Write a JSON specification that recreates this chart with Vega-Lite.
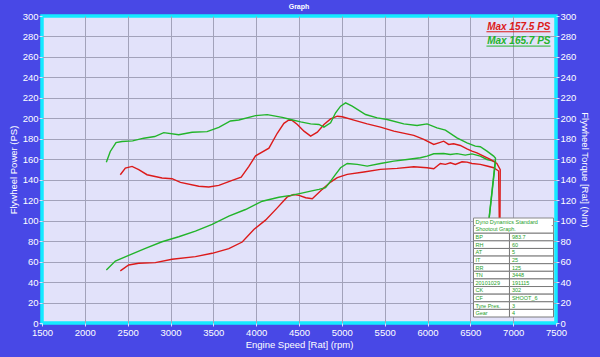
{
  "$schema": "https://vega.github.io/schema/vega-lite/v6.json",
  "width": 514,
  "height": 307,
  "autosize": "none",
  "padding": {"left": 42, "top": 16, "right": 44, "bottom": 34},
  "background": "#4848e6",
  "title": {"text": "Graph", "fontSize": 7, "color": "#ffffff", "fontWeight": "bold", "font": "Liberation Sans", "offset": 1, "anchor": "middle"},
  "datasets": {
    "curves": [
      {"measure":"Torque","run":"Run 1","rpm":2414,"value":144.9},{"measure":"Torque","run":"Run 1","rpm":2473,"value":151.4},{"measure":"Torque","run":"Run 1","rpm":2551,"value":153},{"measure":"Torque","run":"Run 1","rpm":2629,"value":149.8},{"measure":"Torque","run":"Run 1","rpm":2726,"value":144.9},{"measure":"Torque","run":"Run 1","rpm":2901,"value":141.7},{"measure":"Torque","run":"Run 1","rpm":3018,"value":141},{"measure":"Torque","run":"Run 1","rpm":3116,"value":137.4},{"measure":"Torque","run":"Run 1","rpm":3330,"value":133.6},{"measure":"Torque","run":"Run 1","rpm":3447,"value":132.9},{"measure":"Torque","run":"Run 1","rpm":3564,"value":134.5},{"measure":"Torque","run":"Run 1","rpm":3720,"value":139.4},{"measure":"Torque","run":"Run 1","rpm":3825,"value":142.6},{"measure":"Torque","run":"Run 1","rpm":3915,"value":153},{"measure":"Torque","run":"Run 1","rpm":3993,"value":163.4},{"measure":"Torque","run":"Run 1","rpm":4149,"value":170.8},{"measure":"Torque","run":"Run 1","rpm":4246,"value":185.4},{"measure":"Torque","run":"Run 1","rpm":4324,"value":195.1},{"measure":"Torque","run":"Run 1","rpm":4382,"value":198.4},{"measure":"Torque","run":"Run 1","rpm":4420,"value":198},{"measure":"Torque","run":"Run 1","rpm":4481,"value":194},{"measure":"Torque","run":"Run 1","rpm":4558,"value":187.5},{"measure":"Torque","run":"Run 1","rpm":4636,"value":182.6},{"measure":"Torque","run":"Run 1","rpm":4714,"value":186.5},{"measure":"Torque","run":"Run 1","rpm":4791,"value":194},{"measure":"Torque","run":"Run 1","rpm":4869,"value":199.5},{"measure":"Torque","run":"Run 1","rpm":4947,"value":202.1},{"measure":"Torque","run":"Run 1","rpm":5005,"value":201.5},{"measure":"Torque","run":"Run 1","rpm":5141,"value":198.2},{"measure":"Torque","run":"Run 1","rpm":5296,"value":194.6},{"measure":"Torque","run":"Run 1","rpm":5451,"value":191.4},{"measure":"Torque","run":"Run 1","rpm":5607,"value":187.5},{"measure":"Torque","run":"Run 1","rpm":5840,"value":183.3},{"measure":"Torque","run":"Run 1","rpm":5956,"value":179.4},{"measure":"Torque","run":"Run 1","rpm":6073,"value":174.5},{"measure":"Torque","run":"Run 1","rpm":6131,"value":176.1},{"measure":"Torque","run":"Run 1","rpm":6189,"value":177.7},{"measure":"Torque","run":"Run 1","rpm":6247,"value":174.5},{"measure":"Torque","run":"Run 1","rpm":6305,"value":175.1},{"measure":"Torque","run":"Run 1","rpm":6383,"value":173.5},{"measure":"Torque","run":"Run 1","rpm":6461,"value":170.2},{"measure":"Torque","run":"Run 1","rpm":6519,"value":168},{"measure":"Torque","run":"Run 1","rpm":6577,"value":166.3},{"measure":"Torque","run":"Run 1","rpm":6655,"value":163.1},{"measure":"Torque","run":"Run 1","rpm":6733,"value":159.8},{"measure":"Torque","run":"Run 1","rpm":6810,"value":155.9},{"measure":"Torque","run":"Run 1","rpm":6849,"value":149.8},{"measure":"Torque","run":"Run 1","rpm":6845,"value":90},
      {"measure":"Power","run":"Run 1","rpm":2414,"value":50.9},{"measure":"Power","run":"Run 1","rpm":2512,"value":56.7},{"measure":"Power","run":"Run 1","rpm":2629,"value":58.4},{"measure":"Power","run":"Run 1","rpm":2823,"value":59},{"measure":"Power","run":"Run 1","rpm":3018,"value":62.3},{"measure":"Power","run":"Run 1","rpm":3291,"value":64.9},{"measure":"Power","run":"Run 1","rpm":3486,"value":68.1},{"measure":"Power","run":"Run 1","rpm":3681,"value":72.6},{"measure":"Power","run":"Run 1","rpm":3837,"value":79.1},{"measure":"Power","run":"Run 1","rpm":3973,"value":91.4},{"measure":"Power","run":"Run 1","rpm":4109,"value":100.5},{"measure":"Power","run":"Run 1","rpm":4246,"value":112.5},{"measure":"Power","run":"Run 1","rpm":4363,"value":123.2},{"measure":"Power","run":"Run 1","rpm":4441,"value":125.5},{"measure":"Power","run":"Run 1","rpm":4500,"value":124.7},{"measure":"Power","run":"Run 1","rpm":4578,"value":122.4},{"measure":"Power","run":"Run 1","rpm":4655,"value":121.5},{"measure":"Power","run":"Run 1","rpm":4772,"value":130.6},{"measure":"Power","run":"Run 1","rpm":4869,"value":137.7},{"measure":"Power","run":"Run 1","rpm":4947,"value":142},{"measure":"Power","run":"Run 1","rpm":5063,"value":145.2},{"measure":"Power","run":"Run 1","rpm":5257,"value":147.5},{"measure":"Power","run":"Run 1","rpm":5451,"value":150.1},{"measure":"Power","run":"Run 1","rpm":5645,"value":151.1},{"measure":"Power","run":"Run 1","rpm":5840,"value":152.7},{"measure":"Power","run":"Run 1","rpm":5995,"value":151.7},{"measure":"Power","run":"Run 1","rpm":6073,"value":150.7},{"measure":"Power","run":"Run 1","rpm":6150,"value":155.9},{"measure":"Power","run":"Run 1","rpm":6209,"value":155},{"measure":"Power","run":"Run 1","rpm":6267,"value":156.6},{"measure":"Power","run":"Run 1","rpm":6325,"value":155},{"measure":"Power","run":"Run 1","rpm":6403,"value":157.5},{"measure":"Power","run":"Run 1","rpm":6461,"value":157.2},{"measure":"Power","run":"Run 1","rpm":6519,"value":155.9},{"measure":"Power","run":"Run 1","rpm":6616,"value":155},{"measure":"Power","run":"Run 1","rpm":6694,"value":153.4},{"measure":"Power","run":"Run 1","rpm":6772,"value":151.7},{"measure":"Power","run":"Run 1","rpm":6830,"value":148.5},{"measure":"Power","run":"Run 1","rpm":6840,"value":90},
      {"measure":"Torque","run":"Run 2","rpm":2251,"value":157.2},{"measure":"Torque","run":"Run 2","rpm":2297,"value":167.6},{"measure":"Torque","run":"Run 2","rpm":2364,"value":176.3},{"measure":"Torque","run":"Run 2","rpm":2434,"value":177.3},{"measure":"Torque","run":"Run 2","rpm":2558,"value":178},{"measure":"Torque","run":"Run 2","rpm":2687,"value":180.6},{"measure":"Torque","run":"Run 2","rpm":2816,"value":182.2},{"measure":"Torque","run":"Run 2","rpm":2921,"value":186},{"measure":"Torque","run":"Run 2","rpm":3096,"value":184},{"measure":"Torque","run":"Run 2","rpm":3252,"value":186.4},{"measure":"Torque","run":"Run 2","rpm":3427,"value":187},{"measure":"Torque","run":"Run 2","rpm":3564,"value":191.2},{"measure":"Torque","run":"Run 2","rpm":3700,"value":197.4},{"measure":"Torque","run":"Run 2","rpm":3798,"value":198.4},{"measure":"Torque","run":"Run 2","rpm":3993,"value":202.6},{"measure":"Torque","run":"Run 2","rpm":4129,"value":203.6},{"measure":"Torque","run":"Run 2","rpm":4304,"value":201},{"measure":"Torque","run":"Run 2","rpm":4403,"value":198.9},{"measure":"Torque","run":"Run 2","rpm":4519,"value":196.6},{"measure":"Torque","run":"Run 2","rpm":4636,"value":194.6},{"measure":"Torque","run":"Run 2","rpm":4733,"value":194},{"measure":"Torque","run":"Run 2","rpm":4791,"value":191.4},{"measure":"Torque","run":"Run 2","rpm":4869,"value":195.6},{"measure":"Torque","run":"Run 2","rpm":4927,"value":205.4},{"measure":"Torque","run":"Run 2","rpm":4985,"value":211.9},{"measure":"Torque","run":"Run 2","rpm":5044,"value":215.1},{"measure":"Torque","run":"Run 2","rpm":5121,"value":211.9},{"measure":"Torque","run":"Run 2","rpm":5277,"value":203.7},{"measure":"Torque","run":"Run 2","rpm":5413,"value":200.5},{"measure":"Torque","run":"Run 2","rpm":5529,"value":198.9},{"measure":"Torque","run":"Run 2","rpm":5723,"value":194.6},{"measure":"Torque","run":"Run 2","rpm":5878,"value":193},{"measure":"Torque","run":"Run 2","rpm":5995,"value":194.6},{"measure":"Torque","run":"Run 2","rpm":6111,"value":190.7},{"measure":"Torque","run":"Run 2","rpm":6209,"value":188.5},{"measure":"Torque","run":"Run 2","rpm":6344,"value":181},{"measure":"Torque","run":"Run 2","rpm":6461,"value":176.1},{"measure":"Torque","run":"Run 2","rpm":6558,"value":172.8},{"measure":"Torque","run":"Run 2","rpm":6616,"value":172.2},{"measure":"Torque","run":"Run 2","rpm":6694,"value":168},{"measure":"Torque","run":"Run 2","rpm":6772,"value":163.1},{"measure":"Torque","run":"Run 2","rpm":6794,"value":161},{"measure":"Torque","run":"Run 2","rpm":6703,"value":90},
      {"measure":"Power","run":"Run 2","rpm":2251,"value":51.9},{"measure":"Power","run":"Run 2","rpm":2356,"value":60.6},{"measure":"Power","run":"Run 2","rpm":2512,"value":66.1},{"measure":"Power","run":"Run 2","rpm":2707,"value":73},{"measure":"Power","run":"Run 2","rpm":2901,"value":79.4},{"measure":"Power","run":"Run 2","rpm":3096,"value":84.3},{"measure":"Power","run":"Run 2","rpm":3291,"value":89.8},{"measure":"Power","run":"Run 2","rpm":3486,"value":96.3},{"measure":"Power","run":"Run 2","rpm":3681,"value":104.4},{"measure":"Power","run":"Run 2","rpm":3876,"value":110.9},{"measure":"Power","run":"Run 2","rpm":4071,"value":119},{"measure":"Power","run":"Run 2","rpm":4265,"value":122.9},{"measure":"Power","run":"Run 2","rpm":4403,"value":124.7},{"measure":"Power","run":"Run 2","rpm":4519,"value":126.7},{"measure":"Power","run":"Run 2","rpm":4636,"value":128.9},{"measure":"Power","run":"Run 2","rpm":4733,"value":130.6},{"measure":"Power","run":"Run 2","rpm":4810,"value":132.2},{"measure":"Power","run":"Run 2","rpm":4869,"value":138.7},{"measure":"Power","run":"Run 2","rpm":4927,"value":145.2},{"measure":"Power","run":"Run 2","rpm":4985,"value":151.7},{"measure":"Power","run":"Run 2","rpm":5063,"value":155.9},{"measure":"Power","run":"Run 2","rpm":5180,"value":155},{"measure":"Power","run":"Run 2","rpm":5296,"value":153.3},{"measure":"Power","run":"Run 2","rpm":5451,"value":155.9},{"measure":"Power","run":"Run 2","rpm":5607,"value":158.2},{"measure":"Power","run":"Run 2","rpm":5762,"value":159.8},{"measure":"Power","run":"Run 2","rpm":5917,"value":161.5},{"measure":"Power","run":"Run 2","rpm":5995,"value":163.1},{"measure":"Power","run":"Run 2","rpm":6073,"value":165.4},{"measure":"Power","run":"Run 2","rpm":6189,"value":165.7},{"measure":"Power","run":"Run 2","rpm":6267,"value":164.7},{"measure":"Power","run":"Run 2","rpm":6344,"value":165.5},{"measure":"Power","run":"Run 2","rpm":6441,"value":164.1},{"measure":"Power","run":"Run 2","rpm":6519,"value":165.3},{"measure":"Power","run":"Run 2","rpm":6616,"value":163.1},{"measure":"Power","run":"Run 2","rpm":6694,"value":159.8},{"measure":"Power","run":"Run 2","rpm":6772,"value":158.2},{"measure":"Power","run":"Run 2","rpm":6794,"value":158},{"measure":"Power","run":"Run 2","rpm":6703,"value":90}
    ],
    "info": [
      {"key": "Dyno Dynamics Standard", "val": "", "part": "head"},
      {"key": "Shootout Graph.", "val": "", "part": "head"},
      {"key": "BP", "val": "983.7", "part": "row"},
      {"key": "RH", "val": "60", "part": "row"},
      {"key": "AT", "val": "5", "part": "row"},
      {"key": "IT", "val": "25", "part": "row"},
      {"key": "RR", "val": "125", "part": "row"},
      {"key": "TN", "val": "3448", "part": "row"},
      {"key": "20101029", "val": "191115", "part": "row"},
      {"key": "CK", "val": "302", "part": "row"},
      {"key": "CF", "val": "SHOOT_6", "part": "row"},
      {"key": "Tyre Pres.", "val": "3", "part": "row"},
      {"key": "Gear", "val": "4", "part": "row"}
    ]
  },
  "layer": [
    {
      "layer": [
        {
          "data": {"name": "curves"},
          "transform": [{"filter": "datum.measure === 'Power'"}],
          "mark": {"type": "line", "strokeWidth": 1.4, "clip": true},
          "encoding": {
            "x": {"field": "rpm", "type": "quantitative", "scale": {"domain": [1500, 7500], "nice": false},
                  "axis": {"title": "Engine Speed [Rat] (rpm)", "format": "d", "values": [1500,2000,2500,3000,3500,4000,4500,5000,5500,6000,6500,7000,7500], "labelFlush": false, "labelOverlap": false, "grid": true,
                           "gridOpacity": {"condition": {"test": "datum.value == 1500 || datum.value == 7500", "value": 0}, "value": 1}}},
            "y": {"field": "value", "type": "quantitative", "scale": {"domain": [0, 300], "nice": false},
                  "axis": {"orient": "left", "title": "Flywheel Power (PS)", "format": "d", "values": [0,20,40,60,80,100,120,140,160,180,200,220,240,260,280,300], "labelOverlap": false, "grid": true,
                           "gridOpacity": {"condition": {"test": "datum.value == 0 || datum.value == 300", "value": 0}, "value": 1}}},
            "color": {"field": "run", "type": "nominal", "scale": {"domain": ["Run 1", "Run 2"], "range": ["#dc1a1a", "#22b42a"]}, "legend": null},
            "order": {"value": null}
          }
        },
        {
          "data": {"values": [{}]},
          "mark": {"type": "text", "text": "Max 157.5 PS", "align": "right", "baseline": "alphabetic", "font": "Liberation Sans", "fontSize": 10, "fontWeight": "bold", "fontStyle": "italic", "color": "#dc1a1a"},
          "encoding": {
            "x": {"datum": 7436, "type": "quantitative", "scale": {"domain": [1500, 7500], "nice": false},
                  "axis": {"title": "Engine Speed [Rat] (rpm)", "format": "d", "values": [1500,2000,2500,3000,3500,4000,4500,5000,5500,6000,6500,7000,7500], "labelFlush": false, "labelOverlap": false, "grid": true,
                           "gridOpacity": {"condition": {"test": "datum.value == 1500 || datum.value == 7500", "value": 0}, "value": 1}}},
            "y": {"datum": 286.5, "type": "quantitative", "scale": {"domain": [0, 300], "nice": false},
                  "axis": {"orient": "left", "title": "Flywheel Power (PS)", "format": "d", "values": [0,20,40,60,80,100,120,140,160,180,200,220,240,260,280,300], "labelOverlap": false, "grid": true,
                           "gridOpacity": {"condition": {"test": "datum.value == 0 || datum.value == 300", "value": 0}, "value": 1}}}
          }
        },
        {
          "data": {"values": [{}]},
          "mark": {"type": "text", "text": "Max 165.7 PS", "align": "right", "baseline": "alphabetic", "font": "Liberation Sans", "fontSize": 10, "fontWeight": "bold", "fontStyle": "italic", "color": "#22b42a"},
          "encoding": {
            "x": {"datum": 7436, "type": "quantitative", "scale": {"domain": [1500, 7500], "nice": false},
                  "axis": {"title": "Engine Speed [Rat] (rpm)", "format": "d", "values": [1500,2000,2500,3000,3500,4000,4500,5000,5500,6000,6500,7000,7500], "labelFlush": false, "labelOverlap": false, "grid": true,
                           "gridOpacity": {"condition": {"test": "datum.value == 1500 || datum.value == 7500", "value": 0}, "value": 1}}},
            "y": {"datum": 272.6, "type": "quantitative", "scale": {"domain": [0, 300], "nice": false},
                  "axis": {"orient": "left", "title": "Flywheel Power (PS)", "format": "d", "values": [0,20,40,60,80,100,120,140,160,180,200,220,240,260,280,300], "labelOverlap": false, "grid": true,
                           "gridOpacity": {"condition": {"test": "datum.value == 0 || datum.value == 300", "value": 0}, "value": 1}}}
          }
        },
        {
          "data": {"values": [{}]},
          "mark": {"type": "rule", "color": "#dc1a1a", "strokeWidth": 1},
          "encoding": {
            "x": {"datum": 6688, "type": "quantitative", "scale": {"domain": [1500, 7500], "nice": false},
                  "axis": {"title": "Engine Speed [Rat] (rpm)", "format": "d", "values": [1500,2000,2500,3000,3500,4000,4500,5000,5500,6000,6500,7000,7500], "labelFlush": false, "labelOverlap": false, "grid": true,
                           "gridOpacity": {"condition": {"test": "datum.value == 1500 || datum.value == 7500", "value": 0}, "value": 1}}},
            "x2": {"datum": 7436},
            "y": {"datum": 284.6, "type": "quantitative", "scale": {"domain": [0, 300], "nice": false},
                  "axis": {"orient": "left", "title": "Flywheel Power (PS)", "format": "d", "values": [0,20,40,60,80,100,120,140,160,180,200,220,240,260,280,300], "labelOverlap": false, "grid": true,
                           "gridOpacity": {"condition": {"test": "datum.value == 0 || datum.value == 300", "value": 0}, "value": 1}}}
          }
        },
        {
          "data": {"values": [{}]},
          "mark": {"type": "rule", "color": "#22b42a", "strokeWidth": 1},
          "encoding": {
            "x": {"datum": 6688, "type": "quantitative", "scale": {"domain": [1500, 7500], "nice": false},
                  "axis": {"title": "Engine Speed [Rat] (rpm)", "format": "d", "values": [1500,2000,2500,3000,3500,4000,4500,5000,5500,6000,6500,7000,7500], "labelFlush": false, "labelOverlap": false, "grid": true,
                           "gridOpacity": {"condition": {"test": "datum.value == 1500 || datum.value == 7500", "value": 0}, "value": 1}}},
            "x2": {"datum": 7436},
            "y": {"datum": 270.6, "type": "quantitative", "scale": {"domain": [0, 300], "nice": false},
                  "axis": {"orient": "left", "title": "Flywheel Power (PS)", "format": "d", "values": [0,20,40,60,80,100,120,140,160,180,200,220,240,260,280,300], "labelOverlap": false, "grid": true,
                           "gridOpacity": {"condition": {"test": "datum.value == 0 || datum.value == 300", "value": 0}, "value": 1}}}
          }
        }
      ]
    },
    {
      "data": {"name": "curves"},
      "transform": [{"filter": "datum.measure === 'Torque'"}],
      "mark": {"type": "line", "strokeWidth": 1.4, "clip": true},
      "encoding": {
        "x": {"field": "rpm", "type": "quantitative", "scale": {"domain": [1500, 7500], "nice": false},
              "axis": {"title": "Engine Speed [Rat] (rpm)", "format": "d", "values": [1500,2000,2500,3000,3500,4000,4500,5000,5500,6000,6500,7000,7500], "labelFlush": false, "labelOverlap": false, "grid": true,
                       "gridOpacity": {"condition": {"test": "datum.value == 1500 || datum.value == 7500", "value": 0}, "value": 1}}},
        "y": {"field": "value", "type": "quantitative", "scale": {"domain": [0, 300], "nice": false},
              "axis": {"orient": "right", "title": "Flywheel Torque [Rat] (Nm)", "format": "d", "values": [0,20,40,60,80,100,120,140,160,180,200,220,240,260,280,300], "labelOverlap": false, "grid": false}},
        "color": {"field": "run", "type": "nominal", "scale": {"domain": ["Run 1", "Run 2"], "range": ["#dc1a1a", "#22b42a"]}, "legend": null},
        "order": {"value": null}
      }
    },
    {
      "data": {"name": "info"},
      "layer": [
        {
          "transform": [{"filter": "datum.part === 'head'"}],
          "mark": {"type": "rect", "fill": "#ffffff", "stroke": "#8a8a8a", "strokeWidth": 1},
          "encoding": {
            "x": {"datum": 6537, "type": "quantitative", "scale": {"domain": [1500, 7500], "nice": false},
                  "axis": {"title": "Engine Speed [Rat] (rpm)", "format": "d", "values": [1500,2000,2500,3000,3500,4000,4500,5000,5500,6000,6500,7000,7500], "labelFlush": false, "labelOverlap": false, "grid": true,
                           "gridOpacity": {"condition": {"test": "datum.value == 1500 || datum.value == 7500", "value": 0}, "value": 1}}},
            "x2": {"datum": 7471},
            "y": {"field": "key", "type": "nominal", "sort": null, "axis": null, "scale": {"range": [202, 301], "paddingInner": 0, "paddingOuter": 0}}
          }
        },
        {
          "transform": [{"filter": "datum.key === 'Shootout Graph.'"}],
          "mark": {"type": "rect", "fill": "#ffffff", "yOffset": -2},
          "encoding": {
            "x": {"datum": 6560, "type": "quantitative", "scale": {"domain": [1500, 7500], "nice": false},
                  "axis": {"title": "Engine Speed [Rat] (rpm)", "format": "d", "values": [1500,2000,2500,3000,3500,4000,4500,5000,5500,6000,6500,7000,7500], "labelFlush": false, "labelOverlap": false, "grid": true,
                           "gridOpacity": {"condition": {"test": "datum.value == 1500 || datum.value == 7500", "value": 0}, "value": 1}}},
            "x2": {"datum": 7450},
            "y": {"field": "key", "type": "nominal", "sort": null, "axis": null}
          }
        },
        {
          "transform": [{"filter": "datum.part === 'row'"}],
          "mark": {"type": "rect", "fill": "#ffffff", "stroke": "#7a7a7a", "strokeWidth": 1},
          "encoding": {
            "x": {"datum": 6537, "type": "quantitative", "scale": {"domain": [1500, 7500], "nice": false},
                  "axis": {"title": "Engine Speed [Rat] (rpm)", "format": "d", "values": [1500,2000,2500,3000,3500,4000,4500,5000,5500,6000,6500,7000,7500], "labelFlush": false, "labelOverlap": false, "grid": true,
                           "gridOpacity": {"condition": {"test": "datum.value == 1500 || datum.value == 7500", "value": 0}, "value": 1}}},
            "x2": {"datum": 6957},
            "y": {"field": "key", "type": "nominal", "sort": null, "axis": null}
          }
        },
        {
          "transform": [{"filter": "datum.part === 'row'"}],
          "mark": {"type": "rect", "fill": "#ffffff", "stroke": "#7a7a7a", "strokeWidth": 1},
          "encoding": {
            "x": {"datum": 6957, "type": "quantitative", "scale": {"domain": [1500, 7500], "nice": false},
                  "axis": {"title": "Engine Speed [Rat] (rpm)", "format": "d", "values": [1500,2000,2500,3000,3500,4000,4500,5000,5500,6000,6500,7000,7500], "labelFlush": false, "labelOverlap": false, "grid": true,
                           "gridOpacity": {"condition": {"test": "datum.value == 1500 || datum.value == 7500", "value": 0}, "value": 1}}},
            "x2": {"datum": 7471},
            "y": {"field": "key", "type": "nominal", "sort": null, "axis": null}
          }
        },
        {
          "mark": {"type": "text", "align": "left", "baseline": "middle", "font": "Liberation Sans", "fontSize": 5.5, "color": "#1fa02a"},
          "encoding": {
            "x": {"datum": 6560, "type": "quantitative", "scale": {"domain": [1500, 7500], "nice": false},
                  "axis": {"title": "Engine Speed [Rat] (rpm)", "format": "d", "values": [1500,2000,2500,3000,3500,4000,4500,5000,5500,6000,6500,7000,7500], "labelFlush": false, "labelOverlap": false, "grid": true,
                           "gridOpacity": {"condition": {"test": "datum.value == 1500 || datum.value == 7500", "value": 0}, "value": 1}}},
            "y": {"field": "key", "type": "nominal", "sort": null, "axis": null},
            "text": {"field": "key"},
            "fontWeight": {"condition": {"test": "datum.part === 'head'", "value": "bold"}, "value": "normal"}
          }
        },
        {
          "mark": {"type": "text", "align": "left", "baseline": "middle", "font": "Liberation Sans", "fontSize": 5.5, "color": "#1fa02a"},
          "encoding": {
            "x": {"datum": 6985, "type": "quantitative", "scale": {"domain": [1500, 7500], "nice": false},
                  "axis": {"title": "Engine Speed [Rat] (rpm)", "format": "d", "values": [1500,2000,2500,3000,3500,4000,4500,5000,5500,6000,6500,7000,7500], "labelFlush": false, "labelOverlap": false, "grid": true,
                           "gridOpacity": {"condition": {"test": "datum.value == 1500 || datum.value == 7500", "value": 0}, "value": 1}}},
            "y": {"field": "key", "type": "nominal", "sort": null, "axis": null},
            "text": {"field": "val"}
          }
        }
      ]
    }
  ],
  "resolve": {"scale": {"y": "independent"}},
  "config": {
    "view": {"fill": "#e2e2fa", "stroke": "#14eaff", "strokeWidth": 3.5},
    "axis": {
      "labelColor": "#ffffff", "titleColor": "#ffffff",
      "labelFont": "Liberation Sans", "titleFont": "Liberation Sans",
      "labelFontSize": 9.5, "titleFontSize": 9.5, "titleFontWeight": "normal",
      "tickColor": "#dcdcff", "tickSize": 3, "labelPadding": 1, "domain": false,
      "gridColor": "#a2a2ba", "gridWidth": 1
    },
    "axisX": {"titlePadding": 3},
    "axisY": {"titlePadding": 4}
  }
}
